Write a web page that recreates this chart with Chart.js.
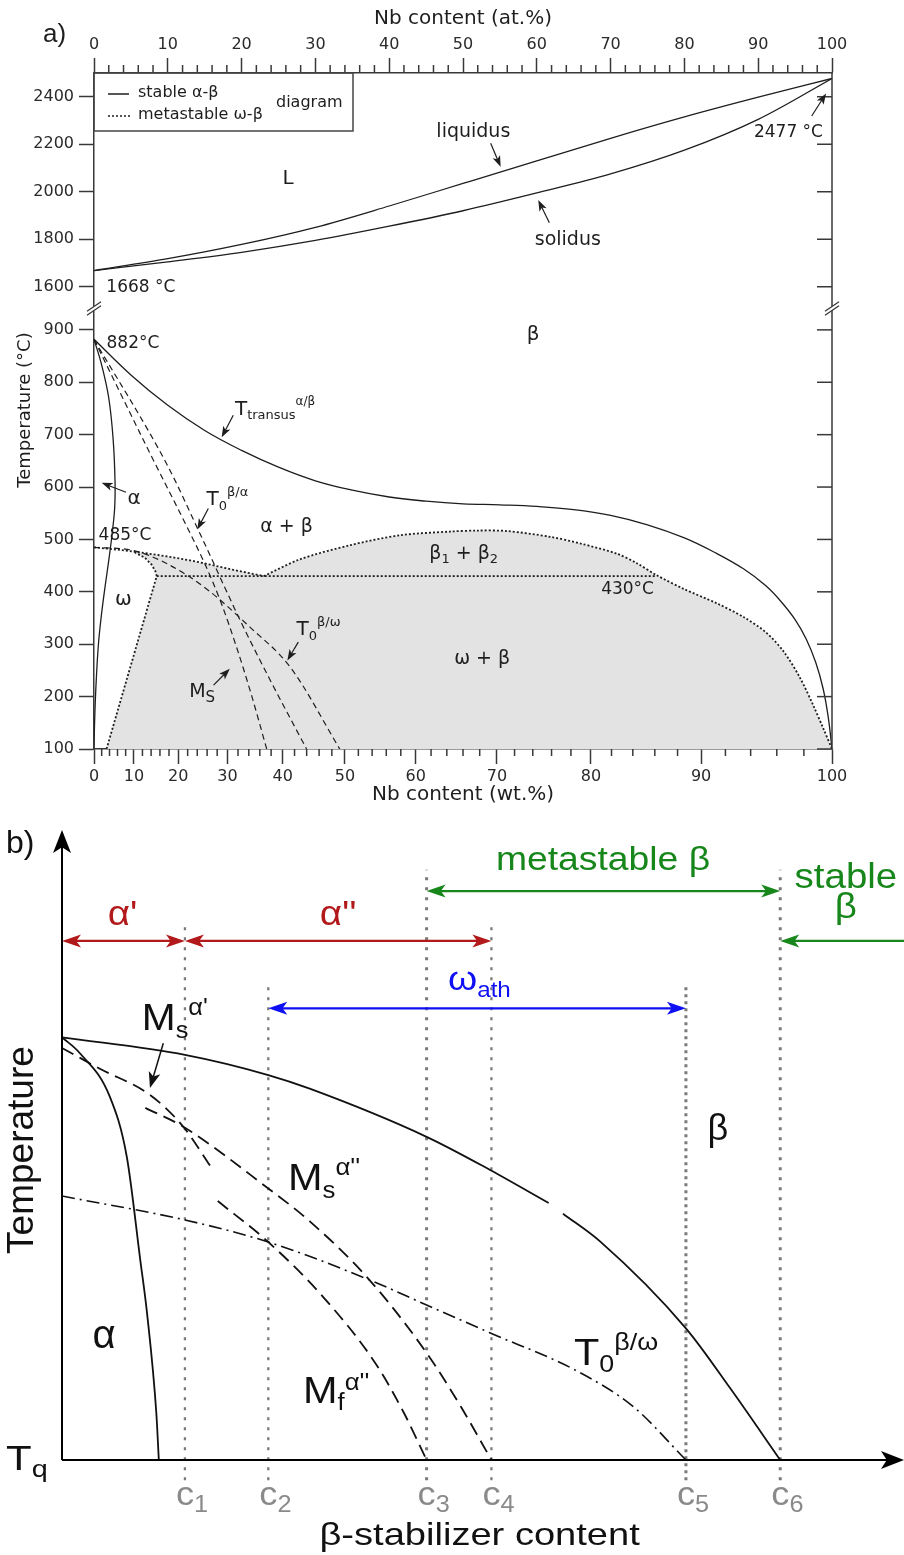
<!DOCTYPE html>
<html>
<head>
<meta charset="utf-8">
<title>Ti-Nb phase diagram</title>
<script src="https://cdn.jsdelivr.net/npm/chart.js@4.4.1/dist/chart.umd.min.js"></script>
<style>
  html, body { margin: 0; padding: 0; background: #fff; }
  canvas { display: block; }
</style>
</head>
<body>
<canvas id="phaseChart" width="904" height="810"></canvas>
<canvas id="schemeChart" width="904" height="745"></canvas>
<script>
// ---------- a) Ti-Nb diagram: x = at.% Nb, T in °C ----------
const liquidusAt = [0, 10, 20, 30, 40, 50, 60, 70, 80, 90, 100];
const liquidusT  = [1668, 1718, 1778, 1850, 1940, 2035, 2130, 2225, 2315, 2398, 2477];
const solidusAt  = [0, 10, 20, 30, 40, 50, 60, 70, 80, 90, 100];
const solidusT   = [1668, 1705, 1745, 1795, 1855, 1920, 1995, 2075, 2175, 2305, 2477];

const transusAt = [0, 5, 10, 15, 20, 25, 30, 35, 40, 45, 50, 55, 60, 65, 70, 75, 80, 84, 88, 91, 93, 95, 96.5, 97.8, 98.8, 99.5, 100];
const transusT  = [882, 814, 756, 708, 670, 638, 612, 594, 581, 573, 568, 566, 563, 557, 546, 528, 503, 476, 444, 412, 383, 347, 310, 265, 215, 160, 100];
const alphaSolvusAt = [0, 1.0, 2.0, 2.6, 2.85, 2.8, 2.45, 2.0, 1.5, 1.0, 0.6, 0.3, 0.1, 0];
const alphaSolvusT  = [882, 835, 770, 690, 610, 560, 510, 460, 410, 355, 300, 230, 160, 100];

const msAt = [0, 7.6, 12.6, 15.0, 17.2, 19.3, 21.4, 23.4];
const msT  = [882, 664, 524, 454, 380, 295, 200, 100];
const t0BetaAlphaAt = [0, 10, 14, 20, 24, 28.8];
const t0BetaAlphaT  = [882, 640, 522, 340, 228, 100];
const t0BetaOmegaAt = [0, 5.3, 9.85, 15.3, 21.1, 26.6, 33.3];
const t0BetaOmegaT  = [485, 479, 454, 405, 333, 256, 100];

// metastable omega-beta equilibria
const omegaSolvusAt = [1.7, 8.5, 8.3, 7.8, 6.9, 5.3];
const omegaSolvusT  = [100, 430, 440, 452, 465, 477];
const omegaTopAt = [0, 5.3, 13, 18.9, 23];
const omegaTopT  = [485, 477, 460, 442, 430];
const gapAt = [23, 27.9, 34.7, 41.5, 48.2, 52, 56, 61.8, 66, 70.8, 73.5, 76.2, 80, 84.4, 88, 91.1, 93.5, 95.7, 97.5, 98.8, 100];
const gapT  = [430, 462, 489, 508, 515, 517, 516, 505, 492, 473, 455, 432, 405, 378, 352, 322, 285, 235, 182, 140, 100];
const isothermAt = [8.5, 76.2];
const isothermT  = [430, 430];

const atTicks = [0, 10, 20, 30, 40, 50, 60, 70, 80, 90, 100];
const wtTicks = [0, 10, 20, 30, 40, 50, 60, 70, 80, 90, 100];
const highTicks = [1600, 1800, 2000, 2200, 2400];
const lowTicks = [100, 200, 300, 400, 500, 600, 700, 800, 900];

// ---------- b) schematic: content and temperature in arbitrary units ----------
const cNames = ['1', '2', '3', '4', '5', '6'];
const cPos = [14.6, 24.5, 43.3, 51.0, 74.1, 85.3];
const cTop = [85.2, 75.4, 93.7, 84.9, 75.4, 93.7];

const bTransusX = [0, 14.6, 24.5, 29.5, 43.3, 50.9, 57.8, 58.6, 59.5, 63.9, 74.1, 79.3, 85.3];
const bTransusY = [67.1, 64.3, 61.1, 58.9, 51.3, 46.0, 40.8, null, 39.1, 34.7, 20.9, 11.5, 0];
const bAlphaX = [0, 2.1, 5.7, 7.7, 9.3, 10.1, 11.2, 11.5];
const bAlphaY = [67.1, 64.6, 57.6, 48.1, 31.7, 23.3, 7.5, 0];
const msAlpha1X = [0, 4.5, 10.5, 14.4, 17.8];
const msAlpha1Y = [65.4, 62.1, 57.9, 52.9, 46.3];
const msAlpha2X = [9.9, 14.4, 24.3, 29.5, 36.5, 43.3, 47.4, 51.0];
const msAlpha2Y = [55.9, 52.9, 43.3, 37.8, 28.6, 17.0, 8.4, 0];
const mfAlpha2X = [18.5, 24.5, 31.0, 37.2, 40.6, 43.3];
const mfAlpha2Y = [41.1, 34.6, 25.9, 15.4, 7.5, 0];
const t0OmegaX = [0, 14.6, 24.5, 36.5, 43.3, 50.8, 61.2, 67.9, 74.1];
const t0OmegaY = [41.9, 38.1, 34.6, 28.6, 24.6, 20.2, 14.1, 8.4, 0];

// composition windows (index into cPos, -1 = origin, 6 = far right)
const rangeNames = ["α'", "α''", 'metastable β', 'ωath', 'stable β'];
const rangeFrom  = [-1, 0, 2, 1, 6];
const rangeTo    = [0, 3, 5, 4, 5];

// ---------- helpers ----------
const pts = (xs, ys) => xs.map((x, i) => ({ x, y: ys[i] }));

function wtToAt(w) {
  if (w <= 0) return 0;
  if (w >= 100) return 100;
  const nb = w / 92.906, ti = (100 - w) / 47.867;
  return 100 * nb / (nb + ti);
}

function seg(ctx, x1, y1, x2, y2) {
  ctx.beginPath(); ctx.moveTo(x1, y1); ctx.lineTo(x2, y2); ctx.stroke();
}

function head(ctx, tx, ty, ang, len, half) {
  const bx = tx - len * Math.cos(ang), by = ty - len * Math.sin(ang);
  ctx.beginPath();
  ctx.moveTo(tx, ty);
  ctx.lineTo(bx + half * Math.sin(ang), by - half * Math.cos(ang));
  ctx.lineTo(bx + 0.25 * len * Math.cos(ang), by + 0.25 * len * Math.sin(ang));
  ctx.lineTo(bx - half * Math.sin(ang), by + half * Math.cos(ang));
  ctx.closePath(); ctx.fill();
}

function arrow(ctx, x1, y1, x2, y2, len, half) {
  const ang = Math.atan2(y2 - y1, x2 - x1);
  seg(ctx, x1, y1, x2 - 0.6 * len * Math.cos(ang), y2 - 0.6 * len * Math.sin(ang));
  head(ctx, x2, y2, ang, len, half);
}

// parts: [text, 'sub'|'sup'|undefined]
function rich(ctx, parts, x, y, o) {
  const fam = o.family, sx = o.sx || 1;
  const fontOf = k => (k === 'sub' ? o.sub : k === 'sup' ? o.sup : o.size) + 'px "' + fam + '"';
  const widths = parts.map(([t, k]) => { ctx.font = fontOf(k); return ctx.measureText(t).width; });
  const total = widths.reduce((a, b) => a + b, 0) * sx;
  let start = x;
  if (o.align === 'center') start = x - total / 2;
  else if (o.align === 'right') start = x - total;
  ctx.save();
  ctx.fillStyle = o.color || '#1e1e1e';
  ctx.textBaseline = 'alphabetic';
  ctx.textAlign = 'left';
  ctx.translate(start, y);
  ctx.scale(sx, 1);
  let pos = 0;
  parts.forEach(([t, k], i) => {
    ctx.font = fontOf(k);
    const dy = k === 'sub' ? o.subDy : k === 'sup' ? o.supDy : 0;
    ctx.fillText(t, pos, dy);
    pos += widths[i];
  });
  ctx.restore();
}

// ---------- chart a ----------
const AX = '#383838';
const DV = 'DejaVu Sans';
const tickFont = { family: DV, size: 16 };
const titleFont = { family: DV, size: 20 };

const solid = { pointRadius: 0, borderColor: '#1e1e1e', borderWidth: 1.3, fill: false, xAxisID: 'xAt' };
const dashed = Object.assign({}, solid, { borderDash: [6, 4], borderWidth: 1.2 });
const dotted = Object.assign({}, solid, { borderDash: [2, 2], borderWidth: 1.8 });

const shadeAt = [...omegaSolvusAt, ...omegaTopAt.slice(2), ...gapAt.slice(1), omegaSolvusAt[0]];
const shadeT  = [...omegaSolvusT, ...omegaTopT.slice(2), ...gapT.slice(1), omegaSolvusT[0]];

// text annotations: [parts, at.%, T, axis, size, align, subSize, subDy, supSize, supDy]
const phaseLabels = [
  [[['L']], 26.3, 2032, 'yHigh', 20, 'center'],
  [[['liquidus']], 51.4, 2232, 'yHigh', 19, 'center'],
  [[['solidus']], 64.2, 1776, 'yHigh', 19, 'center'],
  [[['2477 °C']], 94.1, 2232, 'yHigh', 17, 'center'],
  [[['1668 °C']], 6.35, 1578, 'yHigh', 17, 'center'],
  [[['β']], 59.5, 880, 'yLow', 20, 'center'],
  [[['882°C']], 5.28, 865, 'yLow', 17, 'center'],
  [[['T'], ['transus', 'sub'], ['α/β', 'sup']], 19.1, 738, 'yLow', 20, 'left', 13, 4, 12, -10],
  [[['α']], 5.42, 568, 'yLow', 20, 'center'],
  [[['T'], ['0', 'sub'], ['β/α', 'sup']], 15.25, 565, 'yLow', 20, 'left', 13, 5, 13, -9],
  [[['α + β']], 26.1, 514, 'yLow', 19, 'center'],
  [[['485°C']], 4.2, 498, 'yLow', 17, 'center'],
  [[['β'], ['1', 'sub'], [' + β'], ['2', 'sub']], 50.1, 463, 'yLow', 19, 'center', 13, 4],
  [[['430°C']], 72.3, 395, 'yLow', 17, 'center'],
  [[['ω']], 3.97, 374, 'yLow', 20, 'center'],
  [[['T'], ['0', 'sub'], ['β/ω', 'sup']], 27.45, 317, 'yLow', 20, 'left', 13, 5, 13, -9],
  [[['ω + β']], 52.6, 263, 'yLow', 19, 'center'],
  [[['M'], ['S', 'sub']], 12.9, 199, 'yLow', 19, 'left', 15, 5]
];

// pointer arrows: [from at.%, from T, tip at.%, tip T, axis]
const phaseArrows = [
  [53.75, 2204, 55.1, 2105, 'yHigh'],
  [61.7, 1869, 60.2, 1965, 'yHigh'],
  [97.25, 2319, 99.2, 2414, 'yHigh'],
  [18.87, 737, 17.3, 695, 'yLow'],
  [4.34, 590, 1.04, 608, 'yLow'],
  [15.49, 559, 14.0, 519, 'yLow'],
  [27.68, 304, 26.2, 269, 'yLow'],
  [16.2, 222, 18.4, 253, 'yLow']
];

const phaseDecor = {
  id: 'phaseDecor',
  afterDraw(chart) {
    const { ctx, chartArea: ca, scales } = chart;
    const { xAt, xWt, yHigh, yLow } = scales;
    ctx.save();
    ctx.strokeStyle = AX;
    ctx.lineWidth = 1.5;
    seg(ctx, ca.right, ca.top, ca.right, ca.bottom);
    [yHigh, yLow].forEach(s => s.ticks.forEach(t => {
      const y = s.getPixelForValue(t.value);
      seg(ctx, ca.right - 15, y, ca.right, y);
    }));
    for (let v = 2; v < 100; v += 2) {
      if (v % 10 === 0) continue;
      const x = xAt.getPixelForValue(v);
      seg(ctx, x, ca.top - 8, x, ca.top);
      const xw = xWt.getPixelForValue(wtToAt(v));
      seg(ctx, xw, ca.bottom, xw, ca.bottom + 7);
    }
    // axis break marks
    const yb = yHigh.bottom - 2;
    [ca.left, ca.right].forEach(x => {
      ctx.fillStyle = '#fff';
      ctx.beginPath();
      ctx.moveTo(x - 6, yb + 2); ctx.lineTo(x + 6, yb - 6); ctx.lineTo(x + 6, yb - 2); ctx.lineTo(x - 6, yb + 6);
      ctx.closePath(); ctx.fill();
      ctx.lineWidth = 1.3;
      seg(ctx, x - 7, yb + 2.7, x + 7, yb - 6.7);
      seg(ctx, x - 7, yb + 6.7, x + 7, yb - 2.7);
    });

    // legend box
    ctx.lineWidth = 1.5;
    ctx.strokeStyle = '#444';
    ctx.strokeRect(ca.left, ca.top, 259, 58);
    ctx.strokeStyle = '#1e1e1e';
    ctx.lineWidth = 1.5;
    seg(ctx, ca.left + 14, ca.top + 21, ca.left + 35, ca.top + 21);
    ctx.setLineDash([2, 2]);
    seg(ctx, ca.left + 14, ca.top + 43, ca.left + 36, ca.top + 43);
    ctx.setLineDash([]);
    ctx.fillStyle = '#1e1e1e';
    ctx.font = '16px "' + DV + '"';
    ctx.textBaseline = 'middle';
    ctx.textAlign = 'left';
    ctx.fillText('stable α-β', ca.left + 44, ca.top + 20);
    ctx.fillText('metastable ω-β', ca.left + 44, ca.top + 42);
    ctx.fillText('diagram', ca.left + 182, ca.top + 30);

    // panel tag and temperature title
    ctx.font = '26px "Liberation Sans"';
    ctx.textBaseline = 'alphabetic';
    ctx.fillText('a)', 43, 42);
    ctx.save();
    ctx.translate(25, 410);
    ctx.rotate(-Math.PI / 2);
    ctx.textAlign = 'center';
    ctx.textBaseline = 'middle';
    ctx.font = '18px "' + DV + '"';
    ctx.fillText('Temperature (°C)', 0, 0);
    ctx.restore();

    phaseLabels.forEach(([parts, x, t, ax, size, align, sub, subDy, sup, supDy]) => {
      rich(ctx, parts, xAt.getPixelForValue(x), scales[ax].getPixelForValue(t),
        { family: DV, size, align, sub: sub || 13, subDy: subDy || 4, sup: sup || 13, supDy: supDy || -9 });
    });

    ctx.strokeStyle = '#1e1e1e';
    ctx.fillStyle = '#1e1e1e';
    ctx.lineWidth = 1.2;
    phaseArrows.forEach(([x1, t1, x2, t2, ax]) => {
      const s = scales[ax];
      arrow(ctx, xAt.getPixelForValue(x1), s.getPixelForValue(t1), xAt.getPixelForValue(x2), s.getPixelForValue(t2), 11, 4);
    });
    ctx.restore();
  }
};

const axisCommon = {
  grid: { drawOnChartArea: false, tickLength: 15, tickColor: AX, tickWidth: 1.5 },
  border: { color: AX, width: 1.5 }
};
const plainTicks = { font: tickFont, color: '#2a2a2a', padding: 5, callback: v => String(v) };

new Chart(document.getElementById('phaseChart'), {
  type: 'line',
  data: {
    datasets: [
      Object.assign({}, solid, { label: 'liquidus', data: pts(liquidusAt, liquidusT), yAxisID: 'yHigh', cubicInterpolationMode: 'monotone' }),
      Object.assign({}, solid, { label: 'solidus', data: pts(solidusAt, solidusT), yAxisID: 'yHigh', cubicInterpolationMode: 'monotone' }),
      Object.assign({}, solid, { label: 'T transus', data: pts(transusAt, transusT), yAxisID: 'yLow', tension: 0.4 }),
      Object.assign({}, solid, { label: 'alpha solvus', data: pts(alphaSolvusAt, alphaSolvusT), yAxisID: 'yLow', tension: 0.4 }),
      Object.assign({}, dashed, { label: 'Ms', data: pts(msAt, msT), yAxisID: 'yLow', cubicInterpolationMode: 'monotone' }),
      Object.assign({}, dashed, { label: 'T0 beta/alpha', data: pts(t0BetaAlphaAt, t0BetaAlphaT), yAxisID: 'yLow', cubicInterpolationMode: 'monotone' }),
      Object.assign({}, dashed, { label: 'T0 beta/omega', data: pts(t0BetaOmegaAt, t0BetaOmegaT), yAxisID: 'yLow', cubicInterpolationMode: 'monotone' }),
      Object.assign({}, dotted, { label: 'omega solvus', data: pts(omegaSolvusAt, omegaSolvusT), yAxisID: 'yLow', tension: 0 }),
      Object.assign({}, dotted, { label: 'omega top', data: pts(omegaTopAt, omegaTopT), yAxisID: 'yLow', cubicInterpolationMode: 'monotone' }),
      Object.assign({}, dotted, { label: 'miscibility gap', data: pts(gapAt, gapT), yAxisID: 'yLow', tension: 0.3 }),
      Object.assign({}, dotted, { label: '430', data: pts(isothermAt, isothermT), yAxisID: 'yLow', tension: 0 }),
      { label: 'omega+beta', data: pts(shadeAt, shadeT), xAxisID: 'xAt', yAxisID: 'yLow', fill: 'shape',
        backgroundColor: '#e3e3e3', borderColor: 'rgba(0,0,0,0)', borderWidth: 0, pointRadius: 0, tension: 0, order: 1 }
    ]
  },
  options: {
    responsive: false,
    animation: false,
    events: [],
    layout: { padding: { left: 0, right: 72, top: 0, bottom: 0 } },
    plugins: { legend: { display: false }, tooltip: { enabled: false } },
    scales: {
      xAt: Object.assign({}, axisCommon, {
        type: 'linear', position: 'top', min: 0, max: 100,
        afterBuildTicks: s => { s.ticks = atTicks.map(v => ({ value: v })); },
        ticks: Object.assign({}, plainTicks, { padding: 4, maxRotation: 0, autoSkip: false }),
        title: { display: true, text: 'Nb content (at.%)', font: titleFont, color: '#1e1e1e', padding: { top: 7, bottom: 0 } },
        afterFit: s => { s.height = 73; }
      }),
      xWt: Object.assign({}, axisCommon, {
        type: 'linear', position: 'bottom', min: 0, max: 100,
        afterBuildTicks: s => { s.ticks = wtTicks.map(w => ({ value: wtToAt(w) })); },
        ticks: Object.assign({}, plainTicks, { padding: 3, maxRotation: 0, autoSkip: false,
          callback: (v, i) => String(wtTicks[i]) }),
        title: { display: true, text: 'Nb content (wt.%)', font: titleFont, color: '#1e1e1e', padding: { top: 0, bottom: 3 } },
        afterFit: s => { s.height = 61; }
      }),
      yLow: Object.assign({}, axisCommon, {
        type: 'linear', position: 'left', stack: 'temp', stackWeight: 438.5, min: 100, max: 937,
        afterBuildTicks: s => { s.ticks = lowTicks.map(v => ({ value: v })); },
        ticks: plainTicks,
        afterFit: s => { s.width = 94; }
      }),
      yHigh: Object.assign({}, axisCommon, {
        type: 'linear', position: 'left', stack: 'temp', stackWeight: 237.5, min: 1500, max: 2500,
        afterBuildTicks: s => { s.ticks = highTicks.map(v => ({ value: v })); },
        ticks: plainTicks,
        afterFit: s => { s.width = 94; }
      })
    }
  },
  plugins: [phaseDecor]
});

// ---------- chart b ----------
const LS = 'Liberation Sans';
const RED = '#b2191b', GREEN = '#17871b', BLUE = '#1010f5', GREY = '#7a7a7a';

const bSolid = { pointRadius: 0, borderColor: '#111', borderWidth: 1.8, fill: false, cubicInterpolationMode: 'monotone' };
const bDashed = Object.assign({}, bSolid, { borderDash: [13, 7] });

const cLineSets = cPos.map((c, i) => ({
  label: 'c' + cNames[i],
  data: [{ x: c, y: -3.2 }, { x: c, y: cTop[i] }],
  borderColor: GREY, borderWidth: (i === 2 || i === 4 || i === 5) ? 3 : 2.3,
  borderDash: i === 4 ? [3, 4] : [3, 7], pointRadius: 0, fill: false, order: 2
}));

const schemeDecor = {
  id: 'schemeDecor',
  afterDraw(chart) {
    const { ctx, scales: { x, y } } = chart;
    const px = v => x.getPixelForValue(v), py = v => y.getPixelForValue(v);
    const xOf = i => i < 0 ? px(0) : i >= cPos.length ? px(100) : px(cPos[i]);
    ctx.save();

    // axes with arrow heads
    ctx.strokeStyle = '#000'; ctx.fillStyle = '#000'; ctx.lineWidth = 2;
    seg(ctx, px(0), py(0), px(0), py(100) + 15);
    head(ctx, px(0), py(100), -Math.PI / 2, 23, 9);
    seg(ctx, px(0), py(0), px(100) - 15, py(0));
    head(ctx, px(100), py(0), 0, 23, 9);

    // composition windows
    const levels = [82.4, 82.4, 90.3, 71.7, 82.4];
    const colors = [RED, RED, GREEN, BLUE, GREEN];
    ctx.lineWidth = 2.2;
    rangeNames.forEach((name, i) => {
      const x1 = xOf(rangeFrom[i]), x2 = xOf(rangeTo[i]), yy = py(levels[i]);
      ctx.strokeStyle = colors[i]; ctx.fillStyle = colors[i];
      const dir = Math.sign(x2 - x1);
      const edge = rangeFrom[i] >= cPos.length;
      seg(ctx, x1 + (edge ? 0 : dir * 10), yy, x2 - dir * 10, yy);
      head(ctx, x2, yy, dir > 0 ? 0 : Math.PI, 19, 6.5);
      if (!edge) head(ctx, x1, yy, dir > 0 ? Math.PI : 0, 19, 6.5);
    });

    const lab = (parts, xv, yv, o) => rich(ctx, parts, px(xv), py(yv), Object.assign({ family: LS, color: '#111' }, o));

    lab([['b)']], -6.65, 96.3, { size: 32 });
    lab([["α'"]], 7.19, 84.9, { size: 35, sx: 1.1, align: 'center', color: RED });
    lab([["α''"]], 32.8, 84.9, { size: 35, sx: 1.1, align: 'center', color: RED });
    lab([['metastable β']], 64.25, 93.65, { size: 33, sx: 1.13, align: 'center', color: GREEN });
    lab([['stable']], 93.1, 90.8, { size: 35, sx: 1.1, align: 'center', color: GREEN });
    lab([['β']], 93.1, 86.0, { size: 35, sx: 1.1, align: 'center', color: GREEN });
    lab([['ω'], ['ath', 'sub']], 45.84, 74.6, { size: 34, sx: 1.1, sub: 22, subDy: 7, color: BLUE });
    lab([['M'], ['s', 'sub'], ["α'", 'sup']], 9.47, 68.25, { size: 37, sx: 1.1, sub: 23, subDy: 8, sup: 23, supDy: -15 });
    lab([['M'], ['s', 'sub'], ["α''", 'sup']], 26.84, 42.86, { size: 37, sx: 1.12, sub: 23, subDy: 8, sup: 23, supDy: -15 });
    lab([['M'], ['f', 'sub'], ["α''", 'sup']], 28.62, 9.05, { size: 37, sx: 1.12, sub: 23, subDy: 7, sup: 23, supDy: -13 });
    lab([['T'], ['0', 'sub'], ['β/ω', 'sup']], 60.8, 15.08, { size: 37, sx: 1.12, sub: 24, subDy: 7, sup: 24, supDy: -15 });
    lab([['α']], 4.99, 17.78, { size: 40, align: 'center' });
    lab([['β']], 77.9, 50.8, { size: 36, align: 'center' });
    lab([['T'], ['q', 'sub']], -6.65, -1.59, { size: 35, sx: 1.2, sub: 24, subDy: 7 });
    cPos.forEach((c, i) => {
      rich(ctx, [['c'], [cNames[i], 'sub']], px(c) - 9, py(-7.14),
        { family: LS, size: 33, sx: 1.1, sub: 23, subDy: 7, color: '#8a8a8a' });
    });
    lab([['β-stabilizer content']], 49.6, -13.5, { size: 32, sx: 1.19, align: 'center' });

    ctx.save();
    ctx.translate(px(-3.44), py(49.2));
    ctx.rotate(-Math.PI / 2);
    ctx.font = '37px "' + LS + '"';
    ctx.fillStyle = '#111';
    ctx.textAlign = 'center';
    ctx.textBaseline = 'alphabetic';
    ctx.fillText('Temperature', 0, 0);
    ctx.restore();

    // pointer to the Ms(alpha') curve
    ctx.strokeStyle = '#111'; ctx.fillStyle = '#111'; ctx.lineWidth = 1.5;
    arrow(ctx, px(12.03), py(66.14), px(10.45), py(59.05), 16, 6);
    ctx.restore();
  }
};

new Chart(document.getElementById('schemeChart'), {
  type: 'line',
  data: {
    datasets: [
      Object.assign({}, bSolid, { label: 'beta transus', data: pts(bTransusX, bTransusY), spanGaps: false }),
      Object.assign({}, bSolid, { label: 'alpha', data: pts(bAlphaX, bAlphaY) }),
      Object.assign({}, bDashed, { label: "Ms alpha'", data: pts(msAlpha1X, msAlpha1Y) }),
      Object.assign({}, bDashed, { label: "Ms alpha''", data: pts(msAlpha2X, msAlpha2Y) }),
      Object.assign({}, bDashed, { label: "Mf alpha''", data: pts(mfAlpha2X, mfAlpha2Y) }),
      Object.assign({}, bSolid, { label: 'T0 beta/omega', data: pts(t0OmegaX, t0OmegaY), borderDash: [13, 5, 2, 5], borderWidth: 1.6 }),
      ...cLineSets
    ]
  },
  options: {
    responsive: false,
    animation: false,
    events: [],
    layout: { padding: { left: 62, right: 0, top: 20, bottom: 32 } },
    plugins: { legend: { display: false }, tooltip: { enabled: false } },
    scales: {
      x: { type: 'linear', min: 0, max: 100, display: false },
      y: { type: 'linear', min: -10, max: 100, display: false }
    }
  },
  plugins: [schemeDecor]
});
</script>
</body>
</html>
